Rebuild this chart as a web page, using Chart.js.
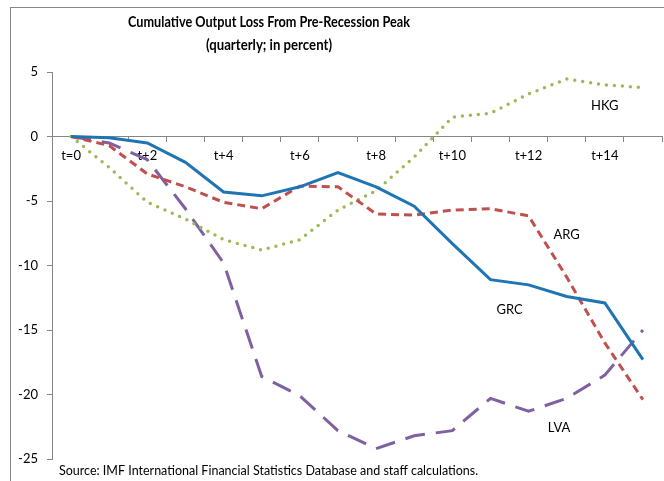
<!DOCTYPE html>
<html>
<head>
<meta charset="utf-8">
<script src="https://cdn.jsdelivr.net/npm/chart.js@4.4.1/dist/chart.umd.min.js"></script>
<style>
  html, body { margin: 0; padding: 0; background: #fff; }
  .cv-frame { position: relative; width: 664px; height: 481px; }
</style>
</head>
<body>
<div class="cv-frame"><canvas id="chart" width="664" height="481"></canvas></div>
<script>
// quarters after the pre-recession peak
const quarters = ['t=0','t+1','t+2','t+3','t+4','t+5','t+6','t+7','t+8','t+9','t+10','t+11','t+12','t+13','t+14','t+15'];

// cumulative output loss, percent
const grc = [0, -0.1, -0.5, -2.0, -4.3, -4.6, -3.9, -2.8, -3.9, -5.4, -8.3, -11.1, -11.5, -12.4, -12.9, -17.3];
const arg = [0, -0.7, -2.9, -3.9, -5.1, -5.6, -3.85, -3.9, -6.0, -6.1, -5.7, -5.6, -6.15, -10.9, -16.0, -20.4];
const hkg = [0, -2.4, -5.1, -6.4, -8.0, -8.8, -8.0, -5.7, -4.2, -1.6, 1.5, 1.8, 3.3, 4.45, 4.0, 3.8];
const lva = [0, -0.5, -1.8, -5.6, -9.8, -18.6, -20.1, -22.8, -24.2, -23.2, -22.8, -20.3, -21.3, -20.3, -18.5, -15.0];

const yTicks = [5, 0, -5, -10, -15, -20, -25];

// series name labels, anchored in data units (category index, value)
const seriesNames = ['GRC', 'ARG', 'HKG', 'LVA'];
const nameAtIndex = [11.5, 13, 14, 12.8];
const nameAtValue = [-13.45, -7.65, 2.4, -22.6];

const FONT = 'Lato, "Liberation Sans", sans-serif';
const AXIS = '#868686';

const decorations = {
  id: 'decorations',
  beforeDraw(chart) {
    const ctx = chart.ctx;
    ctx.save();
    ctx.strokeStyle = AXIS;
    ctx.lineWidth = 1;
    ctx.strokeRect(10.5, 7.5, 800, 600);
    ctx.restore();
  },
  afterDraw(chart) {
    const ctx = chart.ctx;
    const x = chart.scales.x, y = chart.scales.y;
    ctx.save();
    ctx.fillStyle = '#000';
    ctx.textAlign = 'center';
    ctx.textBaseline = 'middle';
    // Calibri-like: a bit condensed
    ctx.font = 'bold 14.5px ' + FONT;
    ctx.fillText('Cumulative Output Loss From Pre-Recession Peak', 269, 22, 282);
    ctx.fillText('(quarterly; in percent)', 269, 45, 126);

    ctx.font = '13px ' + FONT;
    seriesNames.forEach((name, i) => {
      ctx.fillText(name, x.getPixelForValue(nameAtIndex[i]), y.getPixelForValue(nameAtValue[i]));
    });

    ctx.textAlign = 'left';
    ctx.font = '12.5px ' + FONT;
    ctx.fillText('Source: IMF International Financial Statistics Database and staff calculations.', 59, 471);
    ctx.restore();
  }
};

const ctx = document.getElementById('chart').getContext('2d');
new Chart(ctx, {
  type: 'line',
  data: {
    labels: quarters,
    datasets: [
      { label: 'GRC', data: grc, borderColor: '#1F75B3', borderWidth: 3 },
      { label: 'ARG', data: arg, borderColor: '#C0504D', borderWidth: 3, borderDash: [8, 5] },
      { label: 'HKG', data: hkg, borderColor: '#9BBB59', borderWidth: 3.5, borderDash: [0, 8], borderCapStyle: 'round' },
      { label: 'LVA', data: lva, borderColor: '#7F60A0', borderWidth: 3, borderDash: [20, 11] }
    ]
  },
  options: {
    responsive: false,
    animation: false,
    events: [],
    elements: { point: { radius: 0 }, line: { tension: 0 } },
    layout: { padding: { top: 72, bottom: 22, left: 0, right: 2 } },
    plugins: { legend: { display: false }, tooltip: { enabled: false }, title: { display: false } },
    scales: {
      x: {
        type: 'category',
        position: { y: 0 },
        offset: true,
        grid: { offset: true, drawOnChartArea: false, tickLength: 5, color: AXIS },
        border: { color: AXIS },
        ticks: {
          autoSkip: false, maxRotation: 0, padding: 7, color: '#000',
          font: { family: FONT, size: 13 },
          callback: (v, i) => (i % 2 ? '' : quarters[i])
        }
      },
      y: {
        min: -25, max: 5,
        afterBuildTicks: s => { s.ticks = yTicks.map(v => ({ value: v })); },
        afterFit: s => { s.width = 52; },
        grid: { drawOnChartArea: false, tickLength: 5, color: AXIS },
        border: { color: AXIS },
        ticks: { padding: 9, color: '#000', font: { family: FONT, size: 13 } }
      }
    }
  },
  plugins: [decorations]
});
</script>
</body>
</html>
